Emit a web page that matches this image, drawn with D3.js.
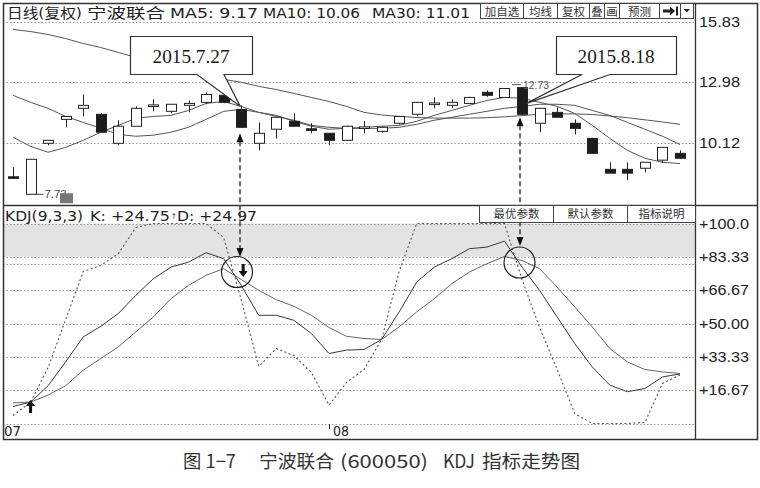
<!DOCTYPE html>
<html><head><meta charset="utf-8">
<script src="https://cdn.jsdelivr.net/npm/d3@7"></script>
<style>body{margin:0;background:#fff}svg{display:block}</style>
</head><body>
<svg id="c" width="760" height="488"></svg>
<script>
// ---------- data ----------
const dates = ["7.8","7.9","7.10","7.13","7.14","7.15","7.16","7.17","7.20","7.21","7.22","7.23","7.24","7.27","7.28","7.29","7.30","7.31",
  "8.3","8.4","8.5","8.6","8.7","8.10","8.11","8.12","8.13","8.14","8.17","8.18","8.19","8.20","8.21","8.24","8.25","8.26","8.27","8.28","8.31"];
const openP  = [8.55,7.73,10.12,11.24,11.76,11.48,10.12,10.92,11.88,11.62,11.90,12.04,12.37,11.71,10.12,10.78,11.15,10.80,10.59,10.26,10.85,10.68,11.06,11.48,11.97,11.90,11.99,12.51,12.27,12.73,11.06,11.57,11.06,10.35,8.90,8.90,8.95,9.33,9.65];
const highP  = [9.00,9.37,10.26,11.38,12.41,11.55,11.20,11.85,12.18,11.95,12.13,12.51,12.45,11.90,11.10,11.34,11.52,11.06,10.59,10.95,11.15,10.92,11.40,12.06,12.27,12.18,12.30,12.60,12.71,12.73,11.76,11.81,11.24,10.38,9.23,9.23,9.23,9.93,9.79];
const lowP   = [8.50,7.73,10.03,10.87,11.38,10.64,10.03,10.92,11.62,11.52,11.57,11.95,12.00,10.85,9.79,10.35,10.90,10.59,10.03,10.24,10.59,10.62,11.00,11.38,11.76,11.76,11.97,12.30,12.25,11.45,10.64,11.34,10.54,9.63,8.72,8.39,8.76,9.19,9.40];
const closeP = [8.53,9.37,10.26,11.38,11.90,10.64,10.92,11.76,11.92,11.95,11.99,12.41,12.04,10.87,10.59,11.34,10.92,10.78,10.26,10.92,10.89,10.87,11.38,12.04,12.01,12.04,12.27,12.37,12.69,11.48,11.76,11.34,10.82,9.65,8.72,8.72,9.23,9.93,9.42];
const ma5  = [10.40,9.98,9.70,9.93,10.26,10.64,10.96,11.29,11.38,11.43,11.66,11.99,12.08,11.85,11.57,11.43,11.15,10.92,10.78,10.82,10.87,10.92,10.96,11.15,11.43,11.66,11.90,12.13,12.27,12.23,12.04,11.85,11.52,10.96,10.35,9.79,9.42,9.23,9.17];
const ma10 = [12.37,12.04,11.76,11.38,11.10,10.82,10.54,10.45,10.50,10.64,10.87,11.24,11.62,11.71,11.57,11.38,11.20,10.96,10.87,10.82,10.82,10.82,10.87,11.01,11.20,11.34,11.48,11.62,11.76,11.85,11.95,11.95,11.90,11.66,11.43,11.10,10.78,10.45,10.06];
const ma30 = [15.46,15.36,15.22,15.03,14.80,14.61,14.38,14.15,13.91,13.68,13.49,13.30,13.12,12.98,12.79,12.64,12.46,12.27,12.08,11.85,11.57,11.45,11.38,11.33,11.30,11.30,11.30,11.32,11.36,11.42,11.48,11.50,11.50,11.47,11.40,11.32,11.22,11.12,11.01];
const kVals = [8.5,10.7,18.9,30.8,43.3,48.6,55.0,64.1,72.4,78.2,80.7,85.4,82.4,69.1,54.1,54.1,51.6,45.0,35.0,36.7,37.0,42.0,55.8,70.7,78.2,82.4,87.4,88.2,91.2,78.2,66.6,53.3,40.0,28.3,19.2,15.9,17.5,23.3,24.75];
const dVals = [10.3,10.7,14.2,18.9,26.7,32.5,38.3,45.8,53.3,62.4,69.1,74.1,77.4,72.0,66.6,61.9,58.6,54.1,48.0,43.6,42.5,42.0,48.3,55.8,62.4,69.9,75.7,79.9,83.5,81.5,77.4,68.2,58.3,48.3,37.5,30.8,27.0,25.8,24.97];
const jVals = [4,10.7,28,52,76,79,85,98,100,100,100,100,93,62,28.5,37.5,34,25.5,9.2,20.5,27,42,76,100,100,100,100,100,100,72,48,27,5,0,0,0,0.5,20,24.3];
const priceTicks = [15.83,12.98,10.12];
const kdjTicks = [100,83.33,66.67,50,33.33,16.67];
const kdjTickLabels = ["+100.0","+83.33","+66.67","+50.00","+33.33","+16.67"];
const kdjGridLevels = [100,83.33,80,66.67,50,33.33,16.67,0];
const topButtons = ["加自选","均线","复权","叠","画","预测","",""];
const kdjButtons = ["最优参数","默认参数","指标说明"];
const markDates = ["7.27","8.18"];
const markLabels = ["2015.7.27","2015.8.18"];

// ---------- layout ----------
const L = 3, R = 695, RB = 757, T = 3, MID = 205, B = 439;
const svg = d3.select("#c");
const x = d3.scalePoint().domain(dates).range([13, 680]);
const yP = d3.scaleLinear().domain([10.12, 15.83]).range([143.3, 21.5]);
const yK = d3.scaleLinear().domain([0, 100]).range([423.5, 223.5]);
const CJK = "'Noto Sans CJK SC', sans-serif";
const UI = "'DejaVu Sans', 'Noto Sans CJK SC', sans-serif";
const AX = "'Liberation Sans', Arial, sans-serif";
const px = v => Math.round(v) + 0.5;

function txt(parent, s, xx, yy, o = {}) {
  const t = parent.append("text").attr("x", xx).attr("y", yy).text(s)
    .attr("font-family", o.font || UI).attr("font-size", o.size || 14)
    .attr("fill", o.fill || "#222");
  if (o.w) t.attr("textLength", o.w).attr("lengthAdjust", "spacingAndGlyphs");
  if (o.anchor) t.attr("text-anchor", o.anchor);
  return t;
}

const defs = svg.append("defs");
defs.append("clipPath").attr("id", "cp").append("rect").attr("x", L).attr("y", T).attr("width", R - L).attr("height", MID - T);
defs.append("clipPath").attr("id", "ck").append("rect").attr("x", L).attr("y", 222).attr("width", R - L).attr("height", 203);

// ---------- KDJ shaded band ----------
svg.append("rect").attr("x", L).attr("y", yK(100)).attr("width", R - L)
  .attr("height", yK(83.33) - yK(100)).attr("fill", "#e3e3e3");

// ---------- gridlines ----------
svg.append("g").selectAll("line").data(priceTicks).join("line")
  .attr("x1", L).attr("x2", R).attr("y1", d => px(yP(d))).attr("y2", d => px(yP(d)))
  .attr("stroke", "#9a9a9a").attr("stroke-dasharray", "1.5,2");
svg.append("g").selectAll("line").data(kdjGridLevels).join("line")
  .attr("x1", L).attr("x2", R).attr("y1", d => px(yK(d))).attr("y2", d => px(yK(d)))
  .attr("stroke", "#9a9a9a").attr("stroke-dasharray", "1.5,2");

// ---------- price panel ----------
const gp = svg.append("g").attr("clip-path", "url(#cp)");
const maLine = d3.line().x((d, i) => x(dates[i])).y(d => yP(d));
[ma30, ma10, ma5].forEach(arr => {
  gp.append("path").attr("d", maLine(arr)).attr("fill", "none").attr("stroke", "#555").attr("stroke-width", 1);
});
const candles = dates.map((d, i) => ({ d, o: openP[i], h: highP[i], l: lowP[i], c: closeP[i] }));
gp.append("g").selectAll("line").data(candles).join("line")
  .attr("x1", d => px(x(d.d))).attr("x2", d => px(x(d.d)))
  .attr("y1", d => yP(d.h)).attr("y2", d => yP(d.l)).attr("stroke", "#222").attr("stroke-width", 1);
gp.append("g").selectAll("rect").data(candles).join("rect")
  .attr("x", d => Math.round(x(d.d)) - 5 + 0.5).attr("width", 10)
  .attr("y", d => yP(Math.max(d.o, d.c)))
  .attr("height", d => Math.max(1.6, Math.abs(yP(d.o) - yP(d.c))))
  .attr("fill", d => d.c > d.o ? "#fff" : "#1c1c1c")
  .attr("stroke", "#222").attr("stroke-width", 1);

// low / high markers
const iLow = d3.minIndex(lowP), iHigh = d3.maxIndex(highP.slice(20)) + 20;
const lx = x(dates[iLow]) + 5, ly = yP(lowP[iLow]);
gp.append("line").attr("x1", lx).attr("x2", lx + 8).attr("y1", ly).attr("y2", ly).attr("stroke", "#444");
txt(gp, d3.format(".2f")(lowP[iLow]), lx + 9, ly + 4, { size: 10, fill: "#444", font: AX, w: 22 });
gp.append("rect").attr("x", 60).attr("y", ly - 1).attr("width", 13).attr("height", 10).attr("fill", "#777");
const hx = x(dates[iHigh]) + 5, hy = yP(highP[iHigh]);
gp.append("line").attr("x1", hx - 15).attr("x2", hx - 6).attr("y1", hy - 3).attr("y2", hy - 3).attr("stroke", "#555");
txt(gp, d3.format(".2f")(highP[iHigh]), hx - 4, hy + 1, { size: 10, fill: "#555", font: AX, w: 26 });

// ---------- KDJ panel ----------
const gk = svg.append("g").attr("clip-path", "url(#ck)");
const kl = d3.line().x((d, i) => x(dates[i])).y(d => yK(d));
gk.append("path").attr("d", kl(jVals)).attr("fill", "none").attr("stroke", "#555").attr("stroke-width", 1.1).attr("stroke-dasharray", "2,2.5");
gk.append("path").attr("d", kl(dVals)).attr("fill", "none").attr("stroke", "#666").attr("stroke-width", 1);
gk.append("path").attr("d", kl(kVals)).attr("fill", "none").attr("stroke", "#3a3a3a").attr("stroke-width", 1);

// buy / sell signal arrows
function solidArrow(cx, yTip, dir) { // dir -1 up, +1 down
  const h = 6, w = 4.5, stem = 7;
  const base = yTip - dir * h;
  svg.append("path").attr("fill", "#111")
    .attr("d", `M${cx},${yTip} L${cx - w},${base} L${cx - 1.5},${base} L${cx - 1.5},${base - dir * stem} L${cx + 1.5},${base - dir * stem} L${cx + 1.5},${base} L${cx + w},${base} Z`);
}
solidArrow(x(dates[1]), 400, -1);
solidArrow(x(dates[13]) + 2, 277, 1);

// ---------- callouts, circles and dashed arrows ----------
const marks = markDates.map((d, i) => ({ d, label: markLabels[i], xi: x(d), idx: dates.indexOf(d) }));
const boxes = [
  { bx: 130, bw: 122, w1: 197, w2: 224, tip: [marks[0].xi - 1, yP(highP[marks[0].idx]) + 1] },
  { bx: 556, bw: 120, w1: 582, w2: 610, tip: [marks[1].xi + 4, yP(openP[marks[1].idx]) + 16] }
];
const by0 = 36, by1 = 74;
boxes.forEach((b, i) => {
  const p = `M${b.bx + 0.5},${by0 + 0.5} H${b.bx + b.bw + 0.5} V${by1 + 0.5} H${b.w2} L${b.tip[0]},${b.tip[1]} L${b.w1},${by1 + 0.5} H${b.bx + 0.5} Z`;
  svg.append("path").attr("d", p).attr("fill", "#fff").attr("stroke", "#333").attr("stroke-width", 1.2);
  txt(svg, marks[i].label, b.bx + b.bw / 2, 63, { font: "'Liberation Serif', 'Times New Roman', serif", size: 19, fill: "#1a1a1a", anchor: "middle", w: 77 });
});

const circles = [{ cx: 237, cy: 272 }, { cx: 519.5, cy: 262.5 }];
circles.forEach(c => svg.append("circle").attr("cx", c.cx).attr("cy", c.cy).attr("r", 15.5)
  .attr("fill", "none").attr("stroke", "#222").attr("stroke-width", 1.2));

function dashedArrow(xx, yTop, yBot) {
  svg.append("line").attr("x1", xx).attr("x2", xx).attr("y1", yTop + 8).attr("y2", yBot - 8)
    .attr("stroke", "#222").attr("stroke-width", 1.3).attr("stroke-dasharray", "5,3");
  svg.append("path").attr("fill", "#111").attr("d", `M${xx},${yTop} L${xx - 3.5},${yTop + 9} L${xx + 3.5},${yTop + 9} Z`);
  svg.append("path").attr("fill", "#111").attr("d", `M${xx},${yBot} L${xx - 3.5},${yBot - 9} L${xx + 3.5},${yBot - 9} Z`);
}
dashedArrow(Math.round(marks[0].xi) - 1, yP(closeP[marks[0].idx]) + 6, 257);
dashedArrow(Math.round(marks[1].xi) - 2, yP(closeP[marks[1].idx]) + 3, 246);

// ---------- frame ----------
const fr = svg.append("g").attr("stroke", "#333").attr("fill", "none");
fr.append("rect").attr("x", L + 0.5).attr("y", T + 0.5).attr("width", RB - L).attr("height", B - T).attr("stroke-width", 1.5);
fr.append("line").attr("x1", R + 0.5).attr("x2", R + 0.5).attr("y1", T).attr("y2", B).attr("stroke-width", 1.3);
fr.append("line").attr("x1", L).attr("x2", RB).attr("y1", MID + 0.5).attr("y2", MID + 0.5).attr("stroke-width", 1.3);

// ---------- axes ----------
const ap = svg.append("g").attr("transform", `translate(${R + 4},0)`)
  .call(d3.axisRight(yP).tickValues(priceTicks).tickSize(0).tickPadding(0).tickFormat(d3.format(".2f")));
const ak = svg.append("g").attr("transform", `translate(${R + 4},0)`)
  .call(d3.axisRight(yK).tickValues(kdjTicks).tickSize(0).tickPadding(0).tickFormat((d, i) => kdjTickLabels[i]));
[ap, ak].forEach(g => {
  g.select(".domain").remove();
  g.selectAll("text").attr("font-family", AX).attr("font-size", 14.5).attr("fill", "#222");
});
ap.selectAll("text").attr("textLength", 41).attr("lengthAdjust", "spacingAndGlyphs");
ak.selectAll("text").attr("textLength", 50).attr("lengthAdjust", "spacingAndGlyphs");

// ---------- headers ----------
[["日线(复权)", 7, 75], ["宁波联合", 87, 78], ["MA5: 9.17", 170, 88], ["MA10: 10.06", 263, 97], ["MA30: 11.01", 372, 98]]
  .forEach(([s, xx, w]) => txt(svg, s, xx, 17.5, { w, size: 14 }));
[["KDJ(9,3,3)", 5, 78], ["K: +24.75", 90, 80], ["D: +24.97", 177, 80]]
  .forEach(([s, xx, w]) => txt(svg, s, xx, 221, { w, size: 14 }));
txt(svg, "↑", 170.5, 219, { size: 8, fill: "#444" });

// top buttons
const tbx = [480, 523, 557, 589, 604, 619, 659, 680, 693];
const gb = svg.append("g");
topButtons.forEach((s, i) => {
  gb.append("rect").attr("x", tbx[i] + 0.5).attr("y", 3.5).attr("width", tbx[i + 1] - tbx[i]).attr("height", 15)
    .attr("fill", "#fff").attr("stroke", "#444").attr("stroke-width", 1);
  if (s) txt(gb, s, (tbx[i] + tbx[i + 1]) / 2 + 0.5, 15.5, { font: CJK, size: 11.5, fill: "#333", anchor: "middle" });
});
// "go to end" glyph and dropdown glyph
gb.append("path").attr("fill", "#222").attr("d", "M663,9.5 H670 V6.5 L675,11 L670,15.5 V12.5 H663 Z");
gb.append("rect").attr("x", 676).attr("y", 6.5).attr("width", 2).attr("height", 9).attr("fill", "#222");
gb.append("path").attr("fill", "#222").attr("d", "M683.5,9 H690 L686.75,12.5 Z");

// KDJ buttons
const kbx = [479, 553, 627, 695];
kdjButtons.forEach((s, i) => {
  gb.append("rect").attr("x", kbx[i] + 0.5).attr("y", MID + 0.5).attr("width", kbx[i + 1] - kbx[i]).attr("height", 17)
    .attr("fill", "#fff").attr("stroke", "#444").attr("stroke-width", 1);
  txt(gb, s, (kbx[i] + kbx[i + 1]) / 2 + 0.5, 218, { font: CJK, size: 11.5, fill: "#333", anchor: "middle" });
});

// month labels
txt(svg, "07", 4, 436, { size: 14, w: 17 });
const x08 = x("8.3");
svg.append("line").attr("x1", px(x08)).attr("x2", px(x08)).attr("y1", 424).attr("y2", 429).attr("stroke", "#333");
txt(svg, "08", x08 + 4, 436, { size: 14, w: 16 });

// ---------- caption ----------
[["图 1−7", 183, 53], ["宁波联合", 259, 75], ["(600050)", 340, 88], ["KDJ", 443, 32], ["指标走势图", 482, 98]]
  .forEach(([s, xx, w]) => txt(svg, s, xx, 468, { font: CJK, size: 18, fill: "#333", w }));
</script>
</body></html>
